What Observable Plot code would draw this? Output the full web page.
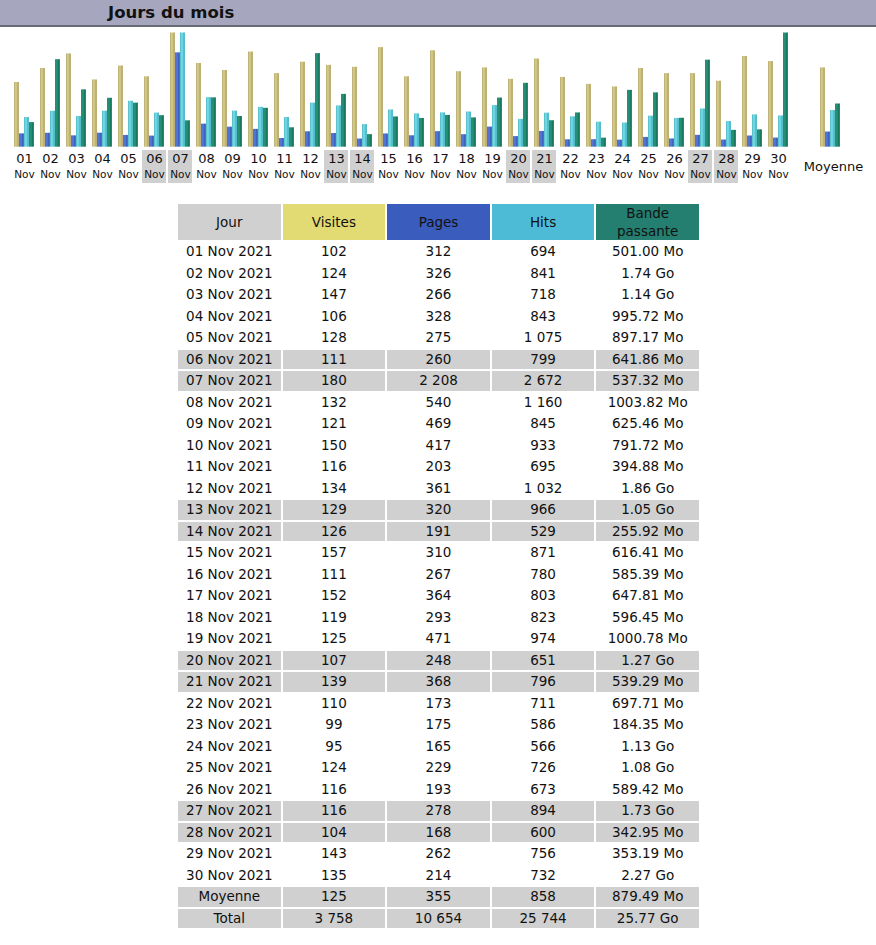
<!DOCTYPE html>
<html>
<head>
<meta charset="utf-8">
<script src="https://cdn.jsdelivr.net/npm/d3@7"></script>
<script src="https://cdn.jsdelivr.net/npm/@observablehq/plot@0.6"></script>
<style>
  html, body { margin: 0; padding: 0; background: #fff; }
  body { font-family: "DejaVu Sans", Verdana, sans-serif; width: 876px; }
  #title { height: 25px; background: #a6a7be; border-bottom: 2px solid #6b6b78; box-sizing: content-box;
           font-weight: bold; font-size: 16.5px; line-height: 26px; padding-left: 108px; color: #111; }
  #chart svg { display: block; }
  table { border-collapse: separate; border-spacing: 2px; margin: 12px 0 0 176px; font-size: 13.5px; color: #111; table-layout: fixed; width: 525px; }
  td, th { width: 102.6px; padding: 0; text-align: center; height: 19.5px; line-height: 19.5px; font-weight: normal; }
  th { height: 36px; line-height: 18px; }
  tr.we td, tr.sum td { background: #d0d0d0; }
</style>
</head>
<body>
<div id="title">Jours du mois</div>
<div id="chart"></div>
<div id="tbl"></div>
<script>
const days = ["01","02","03","04","05","06","07","08","09","10","11","12","13","14","15","16","17","18","19","20","21","22","23","24","25","26","27","28","29","30"];
const month = "Nov";
const year = "2021";
const weekends = ["06","07","13","14","20","21","27","28"];
const visites = [102,124,147,106,128,111,180,132,121,150,116,134,129,126,157,111,152,119,125,107,139,110,99,95,124,116,116,104,143,135];
const pages = [312,326,266,328,275,260,2208,540,469,417,203,361,320,191,310,267,364,293,471,248,368,173,175,165,229,193,278,168,262,214];
const hits = [694,841,718,843,1075,799,2672,1160,845,933,695,1032,966,529,871,780,803,823,974,651,796,711,586,566,726,673,894,600,756,732];
const bande = ["501.00 Mo","1.74 Go","1.14 Go","995.72 Mo","897.17 Mo","641.86 Mo","537.32 Mo","1003.82 Mo","625.46 Mo","791.72 Mo","394.88 Mo","1.86 Go","1.05 Go","255.92 Mo","616.41 Mo","585.39 Mo","647.81 Mo","596.45 Mo","1000.78 Mo","1.27 Go","539.29 Mo","697.71 Mo","184.35 Mo","1.13 Go","1.08 Go","589.42 Mo","1.73 Go","342.95 Mo","353.19 Mo","2.27 Go"];
const moyenne = {visites: 125, pages: 355, hits: 858, bande: "879.49 Mo"};
const total = {visites: 3758, pages: 10654, hits: 25744, bande: "25.77 Go"};
const headers = ["Jour", "Visites", "Pages", "Hits", "Bande passante"];
const avgLabel = "Moyenne";
const totalLabel = "Total";

const toMo = s => { const [v, u] = s.split(" "); return +v * (u === "Go" ? 1024 : 1); };
const maxV = d3.max(visites), maxH = d3.max(hits), maxB = d3.max(bande, toMo);
const rows = days.map((d, i) => ({day: d, v: visites[i] / maxV, p: pages[i] / maxH, h: hits[i] / maxH, b: toMo(bande[i]) / maxB}));
rows.push({day: avgLabel, v: moyenne.visites / maxV, p: moyenne.pages / maxH, h: moyenne.hits / maxH, b: toMo(moyenne.bande) / maxB});

const W = 876, H = 163, ML = 5.8, MR = 27;
const domain = [...days, " ", avgLabel];
const step = (W - ML - MR) / domain.length;
const bw = 5, outer = (step - 4 * bw) / 2;
const ins = k => ({insetLeft: outer + k * bw, insetRight: step - outer - (k + 1) * bw});

const svg = Plot.plot({
  width: W, height: H, marginLeft: ML, marginRight: MR, marginTop: 0, marginBottom: 7,
  style: {fontFamily: "'DejaVu Sans', Verdana, sans-serif", background: "#fff", color: "#111"},
  x: {type: "band", domain, padding: 0, axis: null},
  y: {domain: [0, 1], range: [119.7, 5.5], axis: null},
  marks: [
    Plot.cell(weekends, {x: d => d, fill: "#d0d0d0", insetTop: 123, insetLeft: 1, insetRight: 1}),
    Plot.barY(rows, {x: "day", y: "v", fill: "url(#gv)", ...ins(0)}),
    Plot.barY(rows, {x: "day", y: "p", fill: "url(#gp)", ...ins(1)}),
    Plot.barY(rows, {x: "day", y: "h", fill: "url(#gh)", ...ins(2)}),
    Plot.barY(rows, {x: "day", y: "b", fill: "url(#gb)", ...ins(3)}),
    Plot.text(days, {x: d => d, text: d => d, frameAnchor: "bottom", dy: -21, fontSize: 13, fill: "#111"}),
    Plot.text(days, {x: d => d, text: () => month, frameAnchor: "bottom", dy: -5.5, fontSize: 10.5, fill: "#111"}),
    Plot.text([avgLabel], {x: d => d, text: d => d, frameAnchor: "bottom", dy: -13, dx: 3, fontSize: 13, fill: "#111"})
  ]
});
const grads = [["gv", "#a89a52", "#ddd190"], ["gp", "#2c48a8", "#5b7fe0"], ["gh", "#2aa8b8", "#7fe2ee"], ["gb", "#0a5f4a", "#2a9a7e"]];
const defs = document.createElementNS("http://www.w3.org/2000/svg", "defs");
for (const [id, dark, light] of grads) {
  const g = document.createElementNS("http://www.w3.org/2000/svg", "linearGradient");
  g.setAttribute("id", id); g.setAttribute("x1", "0"); g.setAttribute("x2", "1"); g.setAttribute("y1", "0"); g.setAttribute("y2", "0");
  [[0, dark], [0.35, light], [1, dark]].forEach(([o, c]) => {
    const s = document.createElementNS("http://www.w3.org/2000/svg", "stop");
    s.setAttribute("offset", o); s.setAttribute("stop-color", c); g.appendChild(s);
  });
  defs.appendChild(g);
}
svg.insertBefore(defs, svg.firstChild);
document.getElementById("chart").appendChild(svg);

// Table
const fmt = n => String(n).replace(/\B(?=(\d{3})+(?!\d))/g, " ");
const hdrColors = ["#d0d0d0", "#e2da72", "#3a5cbd", "#4dbbd6", "#247f70"];
let html = "<table><tr>" + headers.map((h, i) => `<th style="background:${hdrColors[i]}">${h}</th>`).join("") + "</tr>";
days.forEach((d, i) => {
  const cls = weekends.includes(d) ? ' class="we"' : "";
  html += `<tr${cls}><td>${d} ${month} ${year}</td><td>${fmt(visites[i])}</td><td>${fmt(pages[i])}</td><td>${fmt(hits[i])}</td><td>${bande[i]}</td></tr>`;
});
html += `<tr class="sum"><td>${avgLabel}</td><td>${fmt(moyenne.visites)}</td><td>${fmt(moyenne.pages)}</td><td>${fmt(moyenne.hits)}</td><td>${moyenne.bande}</td></tr>`;
html += `<tr class="sum"><td>${totalLabel}</td><td>${fmt(total.visites)}</td><td>${fmt(total.pages)}</td><td>${fmt(total.hits)}</td><td>${total.bande}</td></tr>`;
html += "</table>";
document.getElementById("tbl").innerHTML = html;
</script>
</body>
</html>
